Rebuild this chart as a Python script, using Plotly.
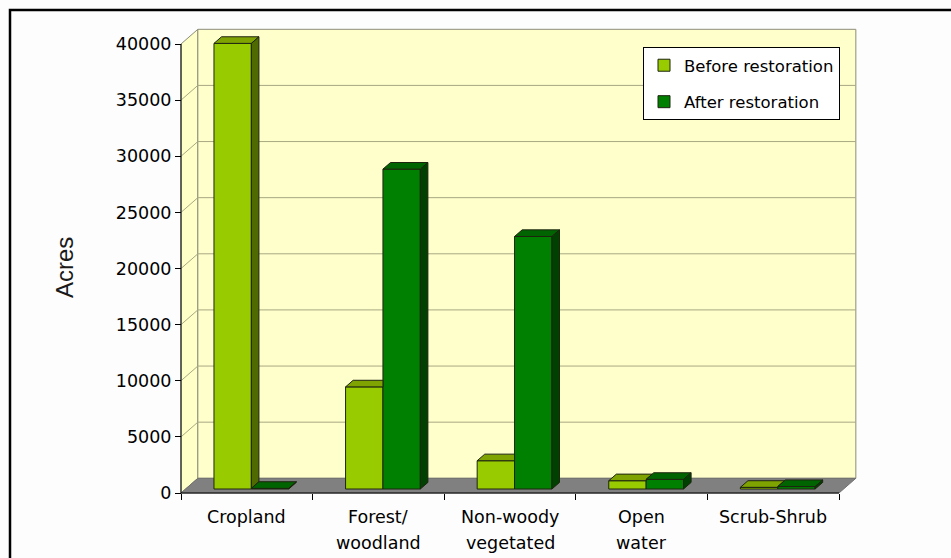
import plotly.graph_objects as go

# ---- data -------------------------------------------------------------
label_lines = [["Cropland"], ["Forest/", "woodland"], ["Non-woody", "vegetated"],
               ["Open", "water"], ["Scrub-Shrub"]]
before_restoration = [39700, 9100, 2520, 740, 150]
after_restoration = [60, 28500, 22500, 860, 220]
y_ticks = [0, 5000, 10000, 15000, 20000, 25000, 30000, 35000, 40000]
series_names = ["Before restoration", "After restoration"]

# ---- styling / geometry -----------------------------------------------
W_PX, H_PX = 951, 558
ML, MR, MT, MB = 170, 81, 18, 58
PLOT_W = W_PX - ML - MR
PLOT_H = H_PX - MT - MB
FRONT_X0 = 181      # pixel of the front plane's left edge (x = -0.5)
FRONT_Y0 = 493      # pixel of the front plane's floor (y = 0)
PX_PER_CAT = 131.6
PX_PER_ACRE = 449 / 40000

DX = 0.128          # depth of the chart box, category units
DY = 1310           # depth of the chart box, acre units
F1, F2 = 0.27, 0.72  # front / back of each bar within the depth
BW = 0.284          # bar width
YMAX = 40000

FONT = "DejaVu Sans"
EDGE = "#1e2410"
COLORS = {
    "before": dict(front="#99CC00", top="#7FA300", side="#4F6A00"),
    "after": dict(front="#008000", top="#006400", side="#004000"),
}


def x_of(px):
    return -0.5 + (px - FRONT_X0) / PX_PER_CAT


def y_of(py):
    return (FRONT_Y0 - py) / PX_PER_ACRE


def paper_x(px):
    return (px - ML) / PLOT_W


def paper_y(py):
    return (H_PX - MB - py) / PLOT_H


n = len(label_lines)
xs = list(range(n))
base = F1 * DY
bdx, bdy = (F2 - F1) * DX, (F2 - F1) * DY
slope = bdy / bdx

fig = go.Figure()

# front faces
for key, name, vals, off in [("before", series_names[0], before_restoration, -BW + F1 * DX),
                             ("after", series_names[1], after_restoration, F1 * DX)]:
    fig.add_trace(go.Bar(
        x=xs, y=vals, base=base, width=BW, offset=off, name=name,
        legendgroup=key,
        marker=dict(color=COLORS[key]["front"], line=dict(color=EDGE, width=1)),
        hoverinfo="skip",
    ))


def poly(pts, color):
    px = [p[0] for p in pts] + [pts[0][0]]
    py = [p[1] for p in pts] + [pts[0][1]]
    fig.add_trace(go.Scatter(
        x=px, y=py, mode="lines", fill="toself", fillcolor=color,
        line=dict(color=EDGE, width=1), showlegend=False, hoverinfo="skip",
    ))


# top and side faces, drawn left to right
for i in xs:
    vb, va = before_restoration[i], after_restoration[i]
    xl = i - BW + F1 * DX
    xm = i + F1 * DX
    xr = xm + BW
    hb = base + vb
    ha = base + va
    # before: top face, trimmed where the taller neighbour hides it
    c = min(max(va - vb, 0), bdy)
    poly([(xl, hb), (xm, hb), (xm, hb + c), (xm + bdx - c / slope, hb + bdy),
          (xl + bdx, hb + bdy)], COLORS["before"]["top"])
    # before: side face, only the part above the neighbour
    if vb > va:
        poly([(xm, ha), (xm, hb), (xm + bdx, hb + bdy), (xm + bdx, ha + bdy)],
             COLORS["before"]["side"])
    # after: top and side
    poly([(xm, ha), (xr, ha), (xr + bdx, ha + bdy), (xm + bdx, ha + bdy)],
         COLORS["after"]["top"])
    poly([(xr, base), (xr, ha), (xr + bdx, ha + bdy), (xr + bdx, base + bdy)],
         COLORS["after"]["side"])

# ---- chart box: walls, floor, gridlines -------------------------------
shapes = []
L, R = -0.5, n - 0.5
wall_fill = "#FFFFCC"
wall_line = "#8C8C7A"
grid = "#A8A882"
shapes.append(dict(type="path", layer="below", xref="x", yref="y",
                   path=f"M{L},0 L{L},{YMAX} L{L + DX},{YMAX + DY} L{L + DX},{DY} Z",
                   fillcolor="#FFFFC8", line=dict(color=wall_line, width=1)))
shapes.append(dict(type="rect", layer="below", xref="x", yref="y",
                   x0=L + DX, x1=R + DX, y0=DY, y1=YMAX + DY,
                   fillcolor=wall_fill, line=dict(color=wall_line, width=1)))
for t in y_ticks[1:-1]:
    shapes.append(dict(type="line", layer="below", xref="x", yref="y",
                       x0=L + DX, x1=R + DX, y0=t + DY, y1=t + DY,
                       line=dict(color=grid, width=1)))
    shapes.append(dict(type="line", layer="below", xref="x", yref="y",
                       x0=L, x1=L + DX, y0=t, y1=t + DY,
                       line=dict(color=grid, width=1)))
shapes.append(dict(type="path", layer="below", xref="x", yref="y",
                   path=f"M{L},0 L{R},0 L{R + DX},{DY} L{L + DX},{DY} Z",
                   fillcolor="#808080", line=dict(color="#707070", width=1)))
# axis lines on the front plane
shapes.append(dict(type="line", xref="x", yref="y", x0=L, x1=L, y0=0, y1=YMAX,
                   line=dict(color="#000000", width=1)))
shapes.append(dict(type="line", xref="x", yref="y", x0=L, x1=R, y0=0, y1=0,
                   line=dict(color="#000000", width=1)))
# outer frame
shapes.append(dict(type="rect", xref="paper", yref="paper",
                   x0=paper_x(10), x1=paper_x(1000), y0=paper_y(620), y1=paper_y(10),
                   line=dict(color="#000000", width=2.5), fillcolor="rgba(0,0,0,0)"))

# ---- text ------------------------------------------------------------
annotations = []
line_px = [517, 542.5]
for i, lines in enumerate(label_lines):
    for k, txt in enumerate(lines):
        annotations.append(dict(x=i, xref="x", y=paper_y(line_px[k]), yref="paper",
                                text=txt, showarrow=False, xanchor="center",
                                yanchor="middle",
                                font=dict(family=FONT, size=17.5, color="#000000")))
annotations.append(dict(x=paper_x(64), y=paper_y(267), xref="paper", yref="paper",
                        xanchor="center", yanchor="middle",
                        text="Acres", textangle=-90, showarrow=False,
                        font=dict(family="Liberation Sans", size=24, color="#1a1a1a")))

fig.update_layout(
    width=W_PX, height=H_PX, autosize=False,
    margin=dict(l=ML, r=MR, t=MT, b=MB, pad=0),
    paper_bgcolor="#FDFDFD", plot_bgcolor="rgba(0,0,0,0)",
    barmode="overlay",
    shapes=shapes, annotations=annotations,
    xaxis=dict(range=[x_of(ML), x_of(ML + PLOT_W)], anchor="free",
               position=paper_y(FRONT_Y0),
               tickmode="array", tickvals=[k - 0.5 for k in range(n + 1)],
               ticks="outside", ticklen=6, tickcolor="#000000", tickwidth=1,
               showticklabels=False, showgrid=False, zeroline=False, showline=False,
               fixedrange=True),
    yaxis=dict(range=[y_of(H_PX - MB), y_of(MT)], anchor="free",
               position=paper_x(FRONT_X0),
               tickmode="array", tickvals=y_ticks, ticktext=[str(t) for t in y_ticks],
               ticks="outside", ticklen=6, tickcolor="#000000", tickwidth=1,
               tickfont=dict(family=FONT, size=17.5, color="#000000"),
               showgrid=False, zeroline=False, showline=False, fixedrange=True),
    legend=dict(x=paper_x(840), xanchor="right", y=paper_y(47), yanchor="top",
                bgcolor="#FFFFFF", bordercolor="#000000", borderwidth=1,
                font=dict(family=FONT, size=16.5, color="#000000"),
                traceorder="grouped", tracegroupgap=12, itemwidth=30),
    showlegend=True,
)

fig.write_html("out.html")
